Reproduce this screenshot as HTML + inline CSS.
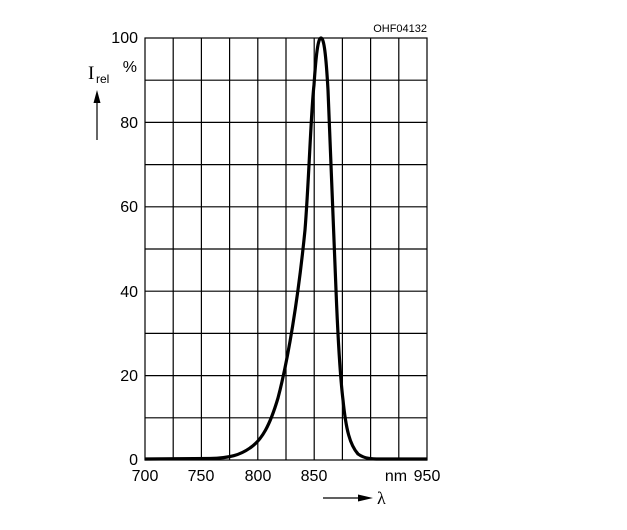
<!DOCTYPE html>
<html><head><style>body{margin:0;background:#fff}</style></head><body>
<svg width="627" height="525" xmlns="http://www.w3.org/2000/svg" font-family="Liberation Sans, Arial, sans-serif">
<rect width="627" height="525" fill="#fff"/>
<g stroke="#000" stroke-width="1.2" fill="none">
<rect x="145" y="38" width="282" height="422"/>
<path d="M173.2 38V460M201.4 38V460M229.6 38V460M257.8 38V460M286 38V460M314.2 38V460M342.4 38V460M370.6 38V460M398.8 38V460"/>
<path d="M145 80.2H427M145 122.4H427M145 164.6H427M145 206.8H427M145 249H427M145 291.2H427M145 333.4H427M145 375.6H427M145 417.8H427"/>
</g>
<path d="M145 459 L210 458.5 C230 458 240 455 250 448 C262 440 270 425 278 398 C288 360 298 300 305 230 C309 180 311 110 314 85 C316 55 318 38 321 38 C324 38 326 55 328 90 C330 140 332 200 336 290 C338 340 340 375 343 400 C346 430 350 445 358 454 C365 459 372 459 380 459 L427 459" stroke="#000" stroke-width="3.2" fill="none" stroke-linejoin="round"/>
<g font-size="16" fill="#000">
<text x="138" y="43" text-anchor="end">100</text>
<text x="138" y="128" text-anchor="end">80</text>
<text x="138" y="212" text-anchor="end">60</text>
<text x="138" y="297" text-anchor="end">40</text>
<text x="138" y="381" text-anchor="end">20</text>
<text x="138" y="465" text-anchor="end">0</text>
<text x="137" y="72" text-anchor="end">%</text>
<text x="145" y="481" text-anchor="middle">700</text>
<text x="201" y="481" text-anchor="middle">750</text>
<text x="258" y="481" text-anchor="middle">800</text>
<text x="314" y="481" text-anchor="middle">850</text>
<text x="396" y="481" text-anchor="middle">nm</text>
<text x="427" y="481" text-anchor="middle">950</text>
</g>
<text x="427" y="32" font-size="11" text-anchor="end">OHF04132</text>
<text x="88" y="79" font-size="19" font-family="Liberation Serif, serif">I</text>
<text x="96" y="83" font-size="12">rel</text>
<line x1="97" y1="140" x2="97" y2="100" stroke="#000" stroke-width="1.2"/>
<polygon points="97,90 93.5,103 100.5,103" fill="#000"/>
<line x1="323" y1="498" x2="360" y2="498" stroke="#000" stroke-width="1.2"/>
<polygon points="373,498 358,494.5 358,501.5" fill="#000"/>
<text x="377" y="504" font-size="18" font-family="Liberation Serif, serif">λ</text>
</svg>
</body></html>
